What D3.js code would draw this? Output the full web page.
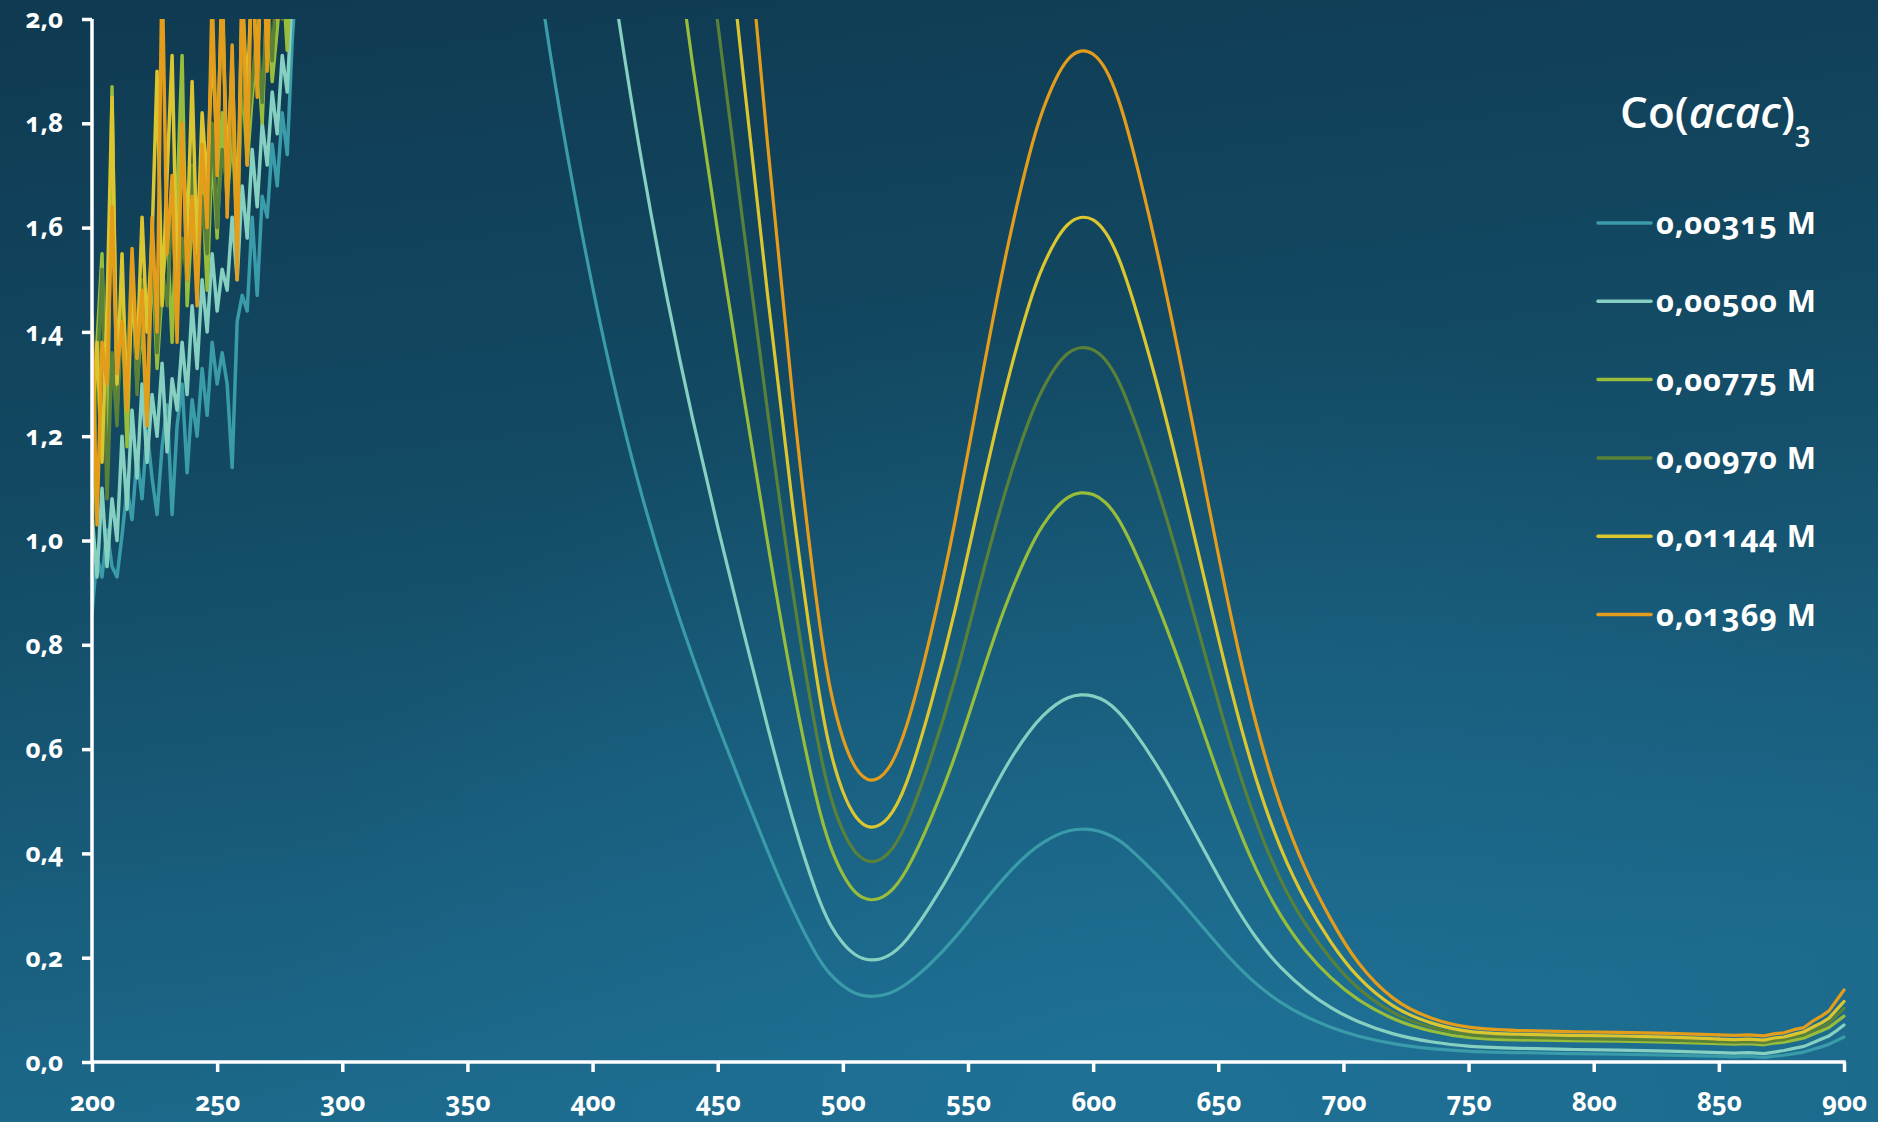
<!DOCTYPE html>
<html><head><meta charset="utf-8">
<script src="https://cdn.jsdelivr.net/npm/d3@7"></script>
<style>
html,body{margin:0;padding:0;background:#123f58;overflow:hidden;}
svg{display:block;}
text{font-family:"Open Sans","Noto Sans",sans-serif;font-variant-numeric:oldstyle-nums;font-feature-settings:"onum" 1;fill:#ffffff;}
</style></head><body>
<svg id="chart" width="1878" height="1122"></svg>
<script>
// ---------- data ----------
const wavelengthsNoisy = [200,202,204,206,208,210,212,214,216,218,220,222,224,226,228,230,232,234,236,238,240,242,244,246,248,250,252,254,256,258,260,262,264,266,268,270,272,274,276,278,280,282];
const wavelengthsSmooth = [300,360,370,380,390,400,410,420,430,440,450,460,470,480,490,495,500,505,511,518,525,535,545,555,565,575,580,585,590,595,600,605,610,615,625,635,645,655,665,675,685,695,705,720,735,750,770,790,810,830,850,856,862,868,872,876,880,884,888,891,894,897,900];

const seriesNames = ["0,00315 M","0,00500 M","0,00775 M","0,00970 M","0,01144 M","0,01369 M"];
const seriesColors = ["#3a9ba9","#86d0c1","#97bd3b","#5a8138","#dcc62f","#e49c1b"];

const noisy00315 = [0.86,0.97,0.93,1.02,0.95,0.93,1.01,1.10,1.04,1.16,1.08,1.21,1.12,1.05,1.18,1.26,1.05,1.22,1.30,1.13,1.27,1.20,1.33,1.24,1.38,1.30,1.36,1.30,1.14,1.42,1.47,1.44,1.62,1.47,1.66,1.62,1.76,1.68,1.82,1.74,1.96,2.10];
const noisy00500 = [1.05,0.93,1.10,0.95,1.08,1.00,1.20,1.06,1.25,1.12,1.30,1.15,1.28,1.20,1.34,1.17,1.31,1.25,1.38,1.28,1.45,1.33,1.50,1.40,1.55,1.44,1.52,1.48,1.62,1.50,1.68,1.58,1.75,1.64,1.80,1.72,1.86,1.78,1.93,1.86,2.05,2.10];
const noisy00775 = [1.00,1.38,1.55,1.12,1.87,1.25,1.45,1.18,1.50,1.30,1.42,1.22,1.55,1.33,1.48,1.60,1.38,1.66,1.93,1.45,1.62,1.52,1.70,1.48,1.75,1.58,1.82,1.65,1.78,1.60,1.90,1.72,1.85,1.95,1.80,2.05,1.88,1.98,2.10,1.94,2.15,2.20];
const noisy00970 = [1.10,1.30,1.52,1.08,1.36,1.22,1.48,1.32,1.55,1.28,1.50,1.40,1.58,1.36,1.52,1.45,1.65,1.42,1.58,1.50,1.72,1.48,1.66,1.55,1.80,1.60,1.75,1.68,1.85,1.62,1.92,1.78,1.88,1.98,1.84,2.05,1.92,2.10,2.00,2.15,2.20,2.25];
const noisy01144 = [1.20,1.38,1.15,1.45,1.85,1.30,1.55,1.25,1.48,1.35,1.62,1.40,1.58,1.90,1.45,1.70,1.93,1.50,1.78,1.58,1.88,1.55,1.82,1.68,1.95,1.75,2.05,1.70,1.92,1.60,2.05,1.85,2.10,1.90,2.15,2.00,2.20,2.10,2.25,2.15,2.30,2.30];
const noisy01369 = [1.43,1.03,1.38,1.30,1.64,1.32,1.42,1.25,1.56,1.35,1.48,1.22,1.62,1.40,2.10,1.55,1.70,1.38,1.80,1.50,1.66,1.45,1.76,1.60,2.05,1.70,2.10,1.62,1.95,1.50,2.10,1.72,2.15,1.85,2.20,1.90,2.25,2.00,2.30,2.10,2.35,2.40];

const smooth00315 = [3.0,2.835,2.394,2.016,1.733,1.481,1.263,1.077,0.917,0.775,0.646,0.523,0.403,0.290,0.198,
  0.167,0.145,0.130,0.124,0.129,0.146,
  0.187,0.238,0.299,0.358,
  0.405,0.421,0.435,0.444,0.447,0.446,0.439,0.427,0.408,
  0.362,0.309,0.252,0.196,0.149,0.113,
  0.086,0.066,0.050,0.034,0.025,0.020,0.018,0.016,0.015,0.013,0.011,
  0.010,0.011,0.009,0.011,0.013,0.016,0.019,0.025,0.029,0.034,0.041,0.048];
const smooth00500 = [3.0,4.5,3.8,3.2,2.75,2.35,2.005,1.71,1.455,1.23,1.025,0.83,0.64,0.46,0.313,
  0.261,0.226,0.203,0.193,0.200,0.228,
  0.298,0.378,0.475,0.568,
  0.639,0.665,0.686,0.700,0.705,0.703,0.693,0.673,0.644,
  0.575,0.49,0.40,0.312,0.236,0.179,
  0.136,0.103,0.078,0.052,0.038,0.029,0.026,0.024,0.023,0.021,0.018,
  0.017,0.018,0.016,0.019,0.022,0.026,0.030,0.038,0.044,0.050,0.060,0.071];
const smooth00775 = [3.0,6.975,5.89,4.96,4.263,3.643,3.108,2.651,2.255,1.907,1.589,1.287,0.992,0.713,0.487,
  0.410,0.357,0.321,0.307,0.318,0.359,
  0.461,0.585,0.736,0.880,
  0.990,1.031,1.063,1.085,1.093,1.090,1.075,1.044,0.998,
  0.889,0.760,0.620,0.483,0.366,0.277,
  0.210,0.160,0.120,0.080,0.058,0.045,0.042,0.041,0.040,0.038,0.035,
  0.034,0.035,0.033,0.036,0.038,0.042,0.046,0.054,0.060,0.066,0.077,0.088];
const smooth00970 = [3.0,8.73,7.37,6.21,5.335,4.559,3.890,3.317,2.823,2.386,1.989,1.610,1.242,0.892,0.606,
  0.505,0.440,0.398,0.379,0.393,0.446,
  0.577,0.732,0.922,1.101,
  1.242,1.293,1.335,1.362,1.372,1.368,1.349,1.310,1.252,
  1.114,0.951,0.776,0.604,0.457,0.344,
  0.260,0.196,0.142,0.090,0.065,0.050,0.047,0.045,0.044,0.042,0.039,
  0.038,0.039,0.037,0.041,0.043,0.048,0.052,0.061,0.067,0.075,0.089,0.103];
const smooth01144 = [3.0,10.3,8.69,7.32,6.292,5.377,4.587,3.912,3.329,2.814,2.345,1.899,1.464,1.052,0.713,
  0.590,0.514,0.466,0.444,0.461,0.520,
  0.679,0.864,1.087,1.296,
  1.467,1.528,1.577,1.610,1.622,1.618,1.594,1.547,1.478,
  1.314,1.121,0.915,0.712,0.538,0.404,
  0.305,0.228,0.163,0.102,0.073,0.056,0.053,0.051,0.050,0.048,0.044,
  0.043,0.044,0.042,0.046,0.048,0.053,0.058,0.068,0.075,0.084,0.100,0.116];
const smooth01369 = [3.0,12.3,10.4,8.76,7.53,6.434,5.490,4.682,3.984,3.368,2.806,2.273,1.752,1.259,0.853,
  0.706,0.616,0.559,0.533,0.553,0.627,
  0.812,1.034,1.301,1.552,
  1.755,1.829,1.887,1.927,1.942,1.936,1.908,1.851,1.769,
  1.572,1.342,1.095,0.851,0.643,0.483,
  0.363,0.272,0.190,0.115,0.082,0.064,0.060,0.058,0.057,0.055,0.052,
  0.051,0.052,0.050,0.054,0.056,0.062,0.066,0.080,0.088,0.098,0.118,0.138];

const xTicks = [200,250,300,350,400,450,500,550,600,650,700,750,800,850,900];
const yTicks = [0,0.2,0.4,0.6,0.8,1.0,1.2,1.4,1.6,1.8,2.0];
const yTickLabels = ["0,0","0,2","0,4","0,6","0,8","1,0","1,2","1,4","1,6","1,8","2,0"];

const noisySeries = [noisy00315,noisy00500,noisy00775,noisy00970,noisy01144,noisy01369];
const smoothSeries = [smooth00315,smooth00500,smooth00775,smooth00970,smooth01144,smooth01369];

// ---------- layout ----------
const W = 1878, H = 1122;
const plotL = 92, plotR = 1844, plotT = 19, plotB = 1062;

const svg = d3.select("#chart");
const defs = svg.append("defs");

const bg = defs.append("linearGradient").attr("id","bg")
  .attr("x1","0").attr("y1","0").attr("x2","0.2").attr("y2","1");
bg.append("stop").attr("offset","0").attr("stop-color","#0f3a51");
bg.append("stop").attr("offset","0.45").attr("stop-color","#134a64");
bg.append("stop").attr("offset","1").attr("stop-color","#1c6a8c");
const glow = defs.append("radialGradient").attr("id","glow")
  .attr("gradientUnits","userSpaceOnUse").attr("cx",1150).attr("cy",1180).attr("r",900);
glow.append("stop").attr("offset","0").attr("stop-color","#2078a0").attr("stop-opacity",0.45);
glow.append("stop").attr("offset","1").attr("stop-color","#2078a0").attr("stop-opacity",0);

svg.append("rect").attr("width",W).attr("height",H).attr("fill","url(#bg)");
svg.append("rect").attr("width",W).attr("height",H).attr("fill","url(#glow)");

defs.append("clipPath").attr("id","plotClip").append("rect")
  .attr("x",plotL).attr("y",plotT).attr("width",plotR-plotL+4).attr("height",plotB-plotT);

const x = d3.scaleLinear().domain([200,900]).range([plotL,plotR]);
const y = d3.scaleLinear().domain([0,2]).range([plotB,plotT]);

const lineLinear = d3.line().x(d=>x(d[0])).y(d=>y(d[1])).curve(d3.curveLinear);
const lineSmooth = d3.line().x(d=>x(d[0])).y(d=>y(d[1])).curve(d3.curveBasis);
const wl = wavelengthsNoisy.concat(wavelengthsSmooth);

const plot = svg.append("g").attr("clip-path","url(#plotClip)");
seriesNames.forEach((name,i)=>{
  const vals = noisySeries[i].concat(smoothSeries[i]);
  const pts = wl.map((w,k)=>[w, vals[k]]);
  const segs = [
    [pts.filter(p=>p[0]<=300), lineLinear, 3.5],
    [pts.filter(p=>p[0]>=360 && p[0]<=850), lineSmooth, 3.2],
    [pts.filter(p=>p[0]>=850), lineLinear, 3.2]
  ];
  segs.forEach(([data,gen,sw])=>{
    plot.append("path").datum(data)
      .attr("d",gen)
      .attr("fill","none")
      .attr("stroke",seriesColors[i])
      .attr("stroke-width",sw)
      .attr("stroke-linejoin","round")
      .attr("stroke-linecap","round");
  });
});

// ---------- axes ----------
const yAxis = d3.axisLeft(y).tickValues(yTicks).tickFormat((d,i)=>yTickLabels[i])
  .tickSize(10).tickSizeOuter(0).tickPadding(19);
const xAxis = d3.axisBottom(x).tickValues(xTicks).tickFormat(d=>String(d))
  .tickSize(10).tickSizeOuter(0).tickPadding(21);

const gx = svg.append("g").attr("transform",`translate(0,${plotB})`).call(xAxis);
const gy = svg.append("g").attr("transform",`translate(${plotL},0)`).call(yAxis);
[gx,gy].forEach(g=>{
  g.select(".domain").attr("stroke","#ffffff").attr("stroke-width",3.5);
  g.selectAll(".tick line").attr("stroke","#ffffff").attr("stroke-width",3.5);
  g.selectAll(".tick text").attr("fill","#ffffff")
    .style("font-family",'"Open Sans","Noto Sans",sans-serif')
    .style("font-size","26px").style("font-weight","700");
});
gx.select(".domain").attr("d",`M${plotL-1.75},0H${plotR+1.75}`);
gy.select(".domain").attr("d",`M0,${plotT}V${plotB+1.75}`);

// ---------- legend ----------
const lg = svg.append("g");
const title = lg.append("text").attr("x",1620).attr("y",128)
  .style("font-size","44px").style("font-weight","600");
title.append("tspan").text("Co(");
title.append("tspan").style("font-style","italic").text("acac");
title.append("tspan").text(")");
title.append("tspan").attr("dy",14).style("font-size","28px").text("3");

seriesNames.forEach((name,i)=>{
  const yy = 223 + i*78.3;
  lg.append("line").attr("x1",1598).attr("x2",1651).attr("y1",yy).attr("y2",yy)
    .attr("stroke",seriesColors[i]).attr("stroke-width",3.5).attr("stroke-linecap","round");
  lg.append("text").attr("x",1656).attr("y",yy+11)
    .style("font-size","31px").style("font-weight","700").style("letter-spacing","0.8px")
    .text(name);
});
</script>
</body></html>
